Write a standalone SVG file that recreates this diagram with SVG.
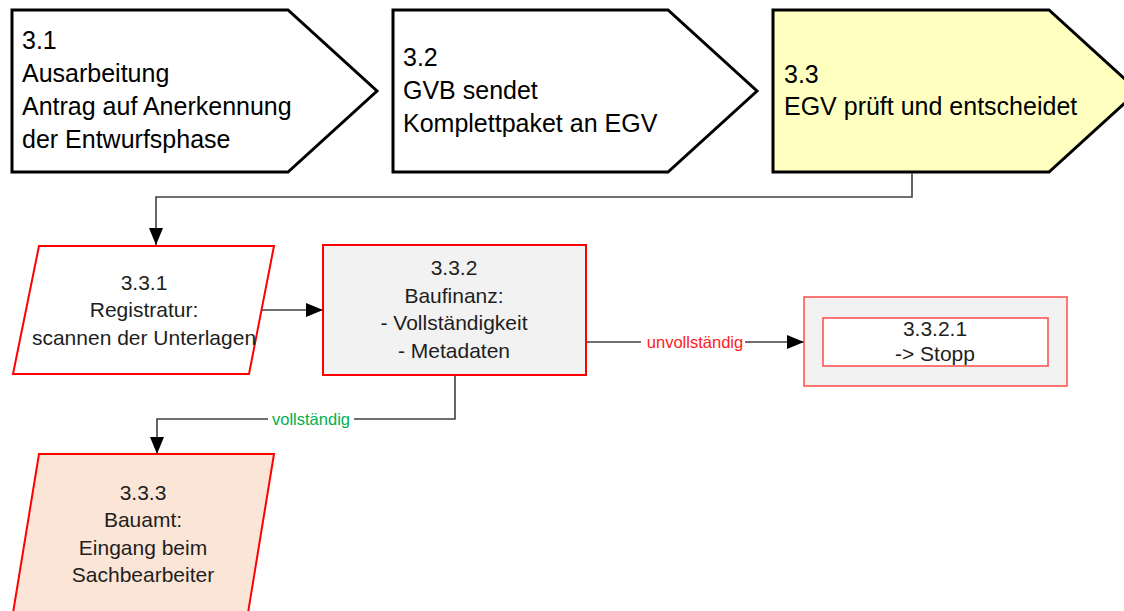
<svg xmlns="http://www.w3.org/2000/svg" width="1124" height="611" viewBox="0 0 1124 611">
<defs>
<style>
.top{stroke:#000;stroke-width:3;stroke-linejoin:miter}
.tt{font-family:"Liberation Sans",Arial,sans-serif;font-size:25px;fill:#000}
.red{stroke:#FF0000;stroke-width:2}
.redl{stroke:#FF4B4B;stroke-width:1.5}
.nt{font-family:"Liberation Sans",Arial,sans-serif;font-size:21px;fill:#1e1e1e;text-anchor:middle}
.conn{fill:none;stroke:#404040;stroke-width:1.6}
.lbl{font-family:"Liberation Sans",Arial,sans-serif;font-size:16.5px;text-anchor:middle}
</style>
<marker id="arr" markerWidth="12" markerHeight="12" viewBox="0 0 12 12" refX="12" refY="6" orient="auto" markerUnits="userSpaceOnUse">
<path d="M0,0 L12,6 L0,12 Z" fill="#000"/>
</marker>
<marker id="arrd" markerWidth="18" markerHeight="14" viewBox="0 0 18 14" refX="17" refY="7" orient="auto" markerUnits="userSpaceOnUse">
<path d="M0,0 L17,7 L0,14 Z" fill="#000"/>
</marker>
</defs>
<rect width="1124" height="611" fill="#fff"/>

<g id="n31">
<polygon class="top" points="12,10 288,10 377,91 288,172 12,172" fill="#fff"/>
<text class="tt" x="22" y="49">3.1</text>
<text class="tt" x="22" y="82">Ausarbeitung</text>
<text class="tt" x="22" y="115">Antrag auf Anerkennung</text>
<text class="tt" x="22" y="148">der Entwurfsphase</text>
</g>

<g id="n32">
<polygon class="top" points="393,10 668,10 757,91 668,172 393,172" fill="#fff"/>
<text class="tt" x="403" y="66">3.2</text>
<text class="tt" x="403" y="99">GVB sendet</text>
<text class="tt" x="403" y="132">Komplettpaket an EGV</text>
</g>

<g id="n33">
<polygon class="top" points="773,10 1049,10 1138,91 1049,172 773,172" fill="#FFFFC0"/>
<text class="tt" x="784" y="83">3.3</text>
<text class="tt" x="784" y="115">EGV prüft und entscheidet</text>
</g>

<g id="connectors">
<polyline class="conn" points="912,173 912,197 156,197 156,245" marker-end="url(#arrd)"/>
<line class="conn" x1="262" y1="310" x2="323" y2="310" marker-end="url(#arrd)"/>
<line class="conn" x1="586" y1="342" x2="804" y2="342" marker-end="url(#arrd)"/>
<rect x="641" y="332" width="104" height="20" fill="#fff"/>
<text class="lbl" x="695" y="348" fill="#FF2020">unvollständig</text>
<polyline class="conn" points="455,376 455,419 157,419 157,454" marker-end="url(#arrd)"/>
<rect x="268" y="409" width="86" height="20" fill="#fff"/>
<text class="lbl" x="311" y="425" fill="#00B050">vollständig</text>
</g>

<g id="n331">
<polygon class="red" points="39,246 274,246 249,374 13,374" fill="#fff"/>
<text class="nt" x="144" y="290">3.3.1</text>
<text class="nt" x="144" y="317">Registratur:</text>
<text class="nt" x="144" y="345">scannen der Unterlagen</text>
</g>

<g id="n332">
<rect class="red" x="323" y="245" width="263" height="130" fill="#F2F2F2"/>
<text class="nt" x="454" y="275">3.3.2</text>
<text class="nt" x="454" y="303">Baufinanz:</text>
<text class="nt" x="454" y="330">- Vollständigkeit</text>
<text class="nt" x="454" y="358">- Metadaten</text>
</g>

<g id="n3321">
<rect class="redl" x="804" y="297" width="263" height="89" fill="#F2F2F2"/>
<rect class="redl" x="823" y="318" width="225" height="48" fill="#fff"/>
<text class="nt" x="935" y="336">3.3.2.1</text>
<text class="nt" x="935" y="361">-&gt; Stopp</text>
</g>

<g id="n333">
<polygon class="red" points="39,454 274,454 248,613 13,613" fill="#FBE5D6"/>
<text class="nt" x="143" y="500">3.3.3</text>
<text class="nt" x="143" y="527">Bauamt:</text>
<text class="nt" x="143" y="555">Eingang beim</text>
<text class="nt" x="143" y="582">Sachbearbeiter</text>
</g>
</svg>
